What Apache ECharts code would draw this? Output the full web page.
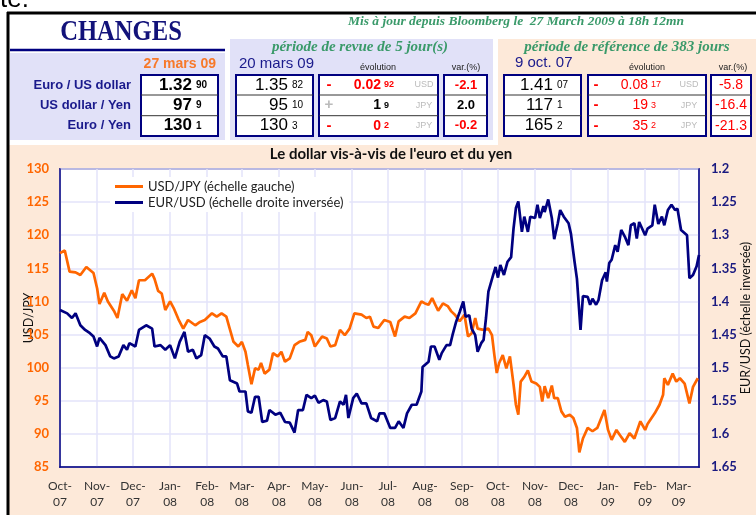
<!DOCTYPE html>
<html>
<head>
<meta charset="utf-8">
<script src="https://cdn.jsdelivr.net/npm/echarts@6/dist/echarts.min.js"></script>
<style>
  body { margin: 0; background: #fff; }
  #chart { width: 756px; height: 515px; }
</style>
</head>
<body>
<div id="chart"></div>
<script>
// day offsets from 1 Oct 2007
const jpyDays = [0, 4, 8, 13, 17, 22, 28, 31, 33, 37, 40, 45, 48, 52, 56, 60, 63, 66, 71, 77, 79, 82, 85, 88, 92, 95, 99, 103, 107, 113, 117, 121, 127, 131, 135, 139, 142, 145, 149, 152, 155, 157, 160, 163, 166, 168, 171, 175, 178, 182, 185, 188, 192, 196, 200, 205, 207, 210, 213, 219, 223, 226, 230, 234, 238, 242, 246, 252, 256, 259, 262, 266, 271, 276, 280, 283, 288, 292, 297, 302, 305, 308, 311, 316, 320, 324, 327, 330, 334, 338, 341, 344, 347, 349, 354, 358, 361, 363, 365, 367, 370, 373, 376, 379, 381, 383, 385, 388, 391, 394, 398, 401, 403, 405, 408, 411, 413, 416, 419, 422, 426, 429, 432, 434, 437, 441, 445, 449, 455, 458, 461, 465, 468, 472, 476, 480, 485, 489, 491, 497, 501, 504, 505, 508, 512, 515, 518, 522, 526, 529, 533];
const jpyVals = [117.3, 117.7, 114.5, 114.4, 114.0, 115.2, 114.3, 112.0, 109.6, 111.3, 110.0, 108.6, 107.5, 111.1, 110.1, 111.7, 110.5, 113.2, 113.2, 114.2, 113.4, 111.6, 111.2, 108.7, 110.0, 109.0, 107.3, 105.9, 107.2, 106.4, 106.9, 107.2, 108.2, 107.7, 108.2, 107.7, 105.8, 103.9, 103.2, 103.9, 102.4, 100.4, 97.5, 99.9, 99.7, 100.7, 99.1, 99.7, 102.2, 101.7, 102.4, 100.9, 101.4, 103.4, 103.9, 104.2, 105.4, 104.9, 103.2, 104.7, 104.4, 103.2, 103.4, 105.7, 104.9, 105.9, 108.2, 108.0, 107.5, 107.7, 106.2, 106.0, 107.2, 106.9, 104.7, 107.0, 107.7, 107.5, 108.2, 110.0, 109.7, 109.5, 110.5, 108.6, 109.7, 109.3, 108.5, 108.0, 107.0, 108.0, 104.7, 105.2, 107.5, 105.9, 105.7, 105.9, 104.9, 101.9, 99.2, 100.7, 101.9, 99.9, 101.7, 97.5, 94.4, 92.9, 97.9, 98.6, 99.6, 97.9, 97.6, 97.1, 94.9, 97.2, 95.4, 97.3, 95.4, 95.4, 93.4, 92.6, 92.9, 92.4, 90.9, 87.2, 89.3, 90.9, 90.4, 90.9, 93.6, 90.6, 89.1, 90.6, 89.8, 88.8, 90.1, 89.3, 91.9, 90.6, 91.5, 93.1, 94.4, 95.9, 98.4, 97.4, 99.1, 97.9, 98.4, 97.6, 94.6, 97.1, 98.4];

const eurDays = [0, 6, 10, 13, 17, 21, 25, 28, 31, 33, 38, 42, 45, 49, 53, 56, 58, 63, 66, 72, 77, 79, 84, 88, 92, 96, 100, 104, 107, 111, 114, 118, 121, 125, 129, 132, 136, 139, 142, 148, 150, 155, 157, 160, 163, 166, 169, 173, 175, 180, 184, 188, 192, 196, 199, 203, 206, 210, 213, 216, 220, 223, 226, 230, 234, 237, 239, 241, 245, 248, 252, 256, 260, 265, 267, 271, 276, 280, 283, 287, 290, 294, 298, 302, 303, 308, 310, 313, 317, 319, 323, 326, 328, 331, 334, 337, 339, 342, 344, 347, 349, 352, 354, 356, 358, 362, 364, 366, 368, 371, 374, 377, 379, 381, 383, 386, 388, 391, 393, 397, 399, 401, 404, 405, 408, 411, 413, 416, 418, 421, 425, 427, 430, 432, 435, 437, 441, 443, 445, 448, 450, 453, 456, 457, 459, 461, 464, 466, 469, 472, 475, 477, 480, 482, 484, 489, 491, 495, 497, 500, 503, 505, 508, 511, 514, 516, 519, 524, 526, 529, 530, 532, 534];
const eurVals = [1.413, 1.418, 1.425, 1.418, 1.436, 1.443, 1.448, 1.453, 1.468, 1.455, 1.466, 1.483, 1.486, 1.483, 1.466, 1.473, 1.463, 1.468, 1.443, 1.436, 1.441, 1.468, 1.466, 1.473, 1.466, 1.486, 1.461, 1.446, 1.476, 1.473, 1.486, 1.481, 1.451, 1.456, 1.468, 1.471, 1.483, 1.483, 1.519, 1.524, 1.536, 1.536, 1.566, 1.568, 1.544, 1.544, 1.582, 1.580, 1.564, 1.571, 1.568, 1.582, 1.583, 1.598, 1.564, 1.564, 1.541, 1.546, 1.542, 1.553, 1.549, 1.551, 1.579, 1.576, 1.551, 1.556, 1.541, 1.576, 1.546, 1.539, 1.554, 1.554, 1.576, 1.581, 1.569, 1.569, 1.591, 1.591, 1.581, 1.591, 1.569, 1.556, 1.556, 1.536, 1.499, 1.491, 1.468, 1.468, 1.488, 1.478, 1.466, 1.466, 1.451, 1.431, 1.416, 1.400, 1.423, 1.421, 1.441, 1.451, 1.476, 1.463, 1.458, 1.425, 1.385, 1.360, 1.348, 1.364, 1.345, 1.360, 1.340, 1.333, 1.290, 1.259, 1.249, 1.295, 1.272, 1.295, 1.272, 1.274, 1.254, 1.274, 1.256, 1.265, 1.246, 1.274, 1.306, 1.282, 1.262, 1.272, 1.282, 1.298, 1.340, 1.366, 1.443, 1.392, 1.393, 1.405, 1.396, 1.405, 1.398, 1.368, 1.356, 1.370, 1.342, 1.337, 1.315, 1.325, 1.292, 1.302, 1.315, 1.285, 1.282, 1.305, 1.280, 1.300, 1.290, 1.285, 1.254, 1.283, 1.272, 1.285, 1.262, 1.254, 1.262, 1.260, 1.292, 1.300, 1.365, 1.360, 1.362, 1.347, 1.330];

const monthNames = ['Jan', 'Feb', 'Mar', 'Apr', 'May', 'Jun', 'Jul', 'Aug', 'Sep', 'Oct', 'Nov', 'Dec'];
const jpyTicks = [85, 90, 95, 100, 105, 110, 115, 120, 125, 130];
const eurTicks = [1.2, 1.25, 1.3, 1.35, 1.4, 1.45, 1.5, 1.55, 1.6, 1.65];

// table
const pairNames = ['Euro / US dollar', 'US dollar / Yen', 'Euro / Yen'];
const nowBig = ['1.32', '97', '130'];
const nowSmall = ['90', '9', '1'];
const weekBig = ['1.35', '95', '130'];
const weekSmall = ['82', '10', '3'];
const weekSign = ['-', '+', '-'];
const weekChgBig = ['0.02', '1', '0'];
const weekChgSmall = ['92', '9', '2'];
const units = ['USD', 'JPY', 'JPY'];
const weekPct = ['-2.1', '2.0', '-0.2'];
const refBig = ['1.41', '117', '165'];
const refSmall = ['07', '1', '2'];
const refSign = ['-', '-', '-'];
const refChgBig = ['0.08', '19', '35'];
const refChgSmall = ['17', '3', '2'];
const refPct = ['-5.8', '-16.4', '-21.3'];

const ORANGE = '#ff6600';
const NAVY = '#000080';
const GREEN = '#3a9a6a';
const RED = '#ff0000';
const PEACH = '#fde9d9';
const LAV = '#e1e1f8';
const SANS = 'Liberation Sans, Arial, sans-serif';
const SERIF = 'Liberation Serif, Times New Roman, serif';

function toDate(d) { return new Date(2007, 9, 1 + d).getTime(); }
const jpyData = jpyDays.map((d, i) => [toDate(d), jpyVals[i]]);
const eurData = eurDays.map((d, i) => [toDate(d), eurVals[i]]);

function txt(x, y, text, font, fill, align, extra) {
  return Object.assign({
    type: 'text', x: x, y: y, z: 10,
    style: { text: text, font: font, fill: fill, align: align || 'left', verticalAlign: 'middle' }
  }, extra || {});
}
function rect(x, y, w, h, fill, stroke, lw, z) {
  return { type: 'rect', z: z == null ? 1 : z, shape: { x: x, y: y, width: w, height: h },
    style: { fill: fill, stroke: stroke || null, lineWidth: lw || 0 } };
}
function line(x1, y1, x2, y2, stroke, lw) {
  return { type: 'line', z: 5, shape: { x1: x1, y1: y1, x2: x2, y2: y2 }, style: { stroke: stroke, lineWidth: lw } };
}

const rowY = [85, 105.3, 125.8];
const g = [];
// backgrounds
g.push(rect(9, 145, 760, 380, PEACH, null, 0, -100));
g.push(rect(10, 53, 215, 87, LAV, null, 0, 0));
g.push(rect(230, 39, 263, 101, LAV, null, 0, 0));
g.push(rect(498, 39, 270, 106, PEACH, null, 0, 0));
// frame
g.push(line(7, 13, 760, 13, '#000', 3));
g.push(line(8, 12, 8, 520, '#000', 3));
g.push(line(10, 50, 225, 50, NAVY, 2.5));
g.push(txt(0, 0, 'te.', '26px ' + SANS, '#000'));
g.push(txt(121, 32, 'CHANGES', 'bold 30px ' + SERIF, '#12127a', 'center', { scaleX: 0.82 }));
g.push(txt(516, 22, 'Mis à jour depuis Bloomberg le  27 March 2009 à 18h 12mn', 'italic bold 13.5px ' + SERIF, GREEN, 'center'));
g.push(txt(360, 47, 'période de revue de 5 jour(s)', 'italic bold 15px ' + SERIF, GREEN, 'center'));
g.push(txt(627, 47, 'période de référence de 383 jours', 'italic bold 15px ' + SERIF, GREEN, 'center'));
g.push(txt(216, 64, '27 mars 09', 'bold 14px ' + SANS, '#f7792a', 'right'));
g.push(txt(239, 64, '20 mars 09', '15px ' + SANS, '#1a1a8c'));
g.push(txt(515, 63, '9 oct. 07', '15px ' + SANS, '#1a1a8c'));
g.push(txt(378, 68, 'évolution', '9px ' + SANS, '#222', 'center'));
g.push(txt(466, 68, 'var.(%)', '9px ' + SANS, '#222', 'center'));
g.push(txt(647, 68, 'évolution', '9px ' + SANS, '#222', 'center'));
g.push(txt(733, 68, 'var.(%)', '9px ' + SANS, '#222', 'center'));

const boxes = [[141, 218], [236, 313], [319, 438], [444, 487], [504, 581], [588, 706], [711, 751]];
boxes.forEach(function (b) {
  g.push(rect(b[0], 75, b[1] - b[0], 61, '#fff', NAVY, 2, 2));
  g.push(line(b[0], 95, b[1], 95, '#333', 1));
  g.push(line(b[0], 115.7, b[1], 115.7, '#333', 1));
});

pairNames.forEach(function (name, i) {
  const y = rowY[i];
  g.push(txt(131, y, name, 'bold 13px ' + SANS, '#1a1a8c', 'right'));
  g.push(txt(192, y, nowBig[i], 'bold 17px ' + SANS, '#000', 'right'));
  g.push(txt(196, y, nowSmall[i], 'bold 10px ' + SANS, '#000'));
  g.push(txt(288, y, weekBig[i], '17px ' + SANS, '#000', 'right'));
  g.push(txt(292, y, weekSmall[i], '10px ' + SANS, '#000'));
  const wc = weekSign[i] === '-' ? RED : '#000';
  g.push(txt(329, y, weekSign[i], 'bold 15px ' + SANS, weekSign[i] === '-' ? RED : '#bbb', 'center'));
  g.push(txt(381, y, weekChgBig[i], 'bold 14px ' + SANS, wc, 'right'));
  g.push(txt(384, y, weekChgSmall[i], 'bold 9px ' + SANS, wc));
  g.push(txt(424, y, units[i], '9px ' + SANS, '#bbb', 'center'));
  g.push(txt(466, y, weekPct[i], 'bold 13px ' + SANS, weekPct[i][0] === '-' ? RED : '#000', 'center'));
  g.push(txt(553, y, refBig[i], '17px ' + SANS, '#000', 'right'));
  g.push(txt(557, y, refSmall[i], '10px ' + SANS, '#000'));
  g.push(txt(596, y, refSign[i], 'bold 15px ' + SANS, RED, 'center'));
  g.push(txt(648, y, refChgBig[i], '14px ' + SANS, RED, 'right'));
  g.push(txt(651, y, refChgSmall[i], '9px ' + SANS, RED));
  g.push(txt(689, y, units[i], '9px ' + SANS, '#bbb', 'center'));
  g.push(txt(731, y, refPct[i], '14px ' + SANS, RED, 'center'));
});

const chart = echarts.init(document.getElementById('chart'));
chart.setOption({
  backgroundColor: '#fff',
  animation: false,
  graphic: { elements: g },
  title: {
    text: "Le dollar vis-à-vis de l'euro et du yen",
    left: 386, top: 142, textAlign: 'center',
    textStyle: { fontFamily: 'Lato', fontWeight: 'bold', fontSize: 15, color: '#111' }
  },
  legend: {
    left: 110, top: 177, orient: 'vertical',
    backgroundColor: '#fff', padding: [3, 6, 3, 5], itemGap: 3,
    icon: 'rect', itemWidth: 28, itemHeight: 3,
    textStyle: { fontFamily: 'Lato', fontSize: 13, color: '#222' },
    data: ['USD/JPY (échelle gauche)', 'EUR/USD (échelle droite inversée)']
  },
  grid: {
    left: 60, right: 57, top: 169, bottom: 48,
    outerBoundsMode: 'none', containLabel: false,
    show: true, backgroundColor: '#fff', borderColor: NAVY, borderWidth: 1.5
  },
  xAxis: {
    type: 'time',
    min: toDate(0), max: toDate(534),
    minInterval: 28 * 86400000, maxInterval: 31 * 86400000,
    axisLine: { lineStyle: { color: NAVY, width: 1.5 } },
    axisTick: { show: false },
    splitLine: { show: true, lineStyle: { color: '#e3e3fa', width: 1.5 } },
    axisLabel: {
      margin: 11, color: '#333', fontFamily: 'Lato', fontSize: 12, lineHeight: 16,
      hideOverlap: false,
      formatter: function (v) {
        const d = new Date(v);
        return monthNames[d.getMonth()] + '-\n' + String(d.getFullYear()).slice(2);
      }
    }
  },
  yAxis: [{
    type: 'value', min: jpyTicks[0], max: jpyTicks[jpyTicks.length - 1], interval: 5,
    name: 'USD/JPY', nameLocation: 'middle', nameGap: 25, nameRotate: 90, nameMoveOverlap: false,
    nameTextStyle: { fontFamily: 'Lato', fontSize: 12.5, color: '#111' },
    axisLine: { show: true, lineStyle: { color: NAVY, width: 1.5 } },
    axisTick: { show: false },
    splitLine: { lineStyle: { color: '#e3e3fa', width: 1.5 } },
    axisLabel: { margin: 11, color: ORANGE, fontFamily: 'Lato', fontWeight: 'bold', fontSize: 13 }
  }, {
    type: 'value', inverse: true, position: 'right',
    min: eurTicks[0], max: eurTicks[eurTicks.length - 1], interval: 0.05,
    name: 'EUR/USD (échelle inversée)', nameLocation: 'middle', nameGap: 40, nameRotate: 90, nameMoveOverlap: false,
    nameTextStyle: { fontFamily: 'Lato', fontSize: 12.5, color: '#111' },
    axisLine: { show: true, lineStyle: { color: NAVY, width: 1.5 } },
    axisTick: { show: false },
    splitLine: { show: false },
    axisLabel: {
      margin: 12, color: '#1a1a80', fontFamily: 'Lato', fontWeight: 'bold', fontSize: 13,
      formatter: function (v) { return String(parseFloat(v.toFixed(2))); }
    }
  }],
  series: [{
    name: 'USD/JPY (échelle gauche)', type: 'line', yAxisIndex: 0,
    data: jpyData, showSymbol: false, color: ORANGE,
    lineStyle: { width: 2.7, color: ORANGE }
  }, {
    name: 'EUR/USD (échelle droite inversée)', type: 'line', yAxisIndex: 1,
    data: eurData, showSymbol: false, color: NAVY,
    lineStyle: { width: 2.7, color: NAVY }
  }]
});
</script>
</body>
</html>
